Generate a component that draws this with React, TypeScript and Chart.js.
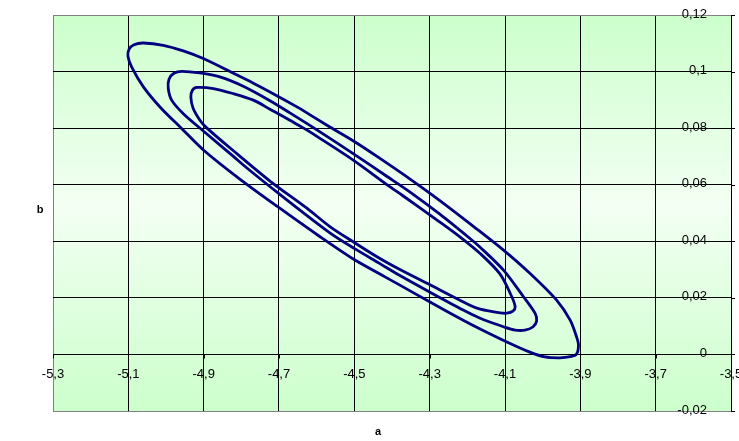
import React, { useEffect, useRef } from "react";
import { Chart, registerables } from "chart.js";

Chart.register(...registerables);

// Axis ticks
const xTicks = [-5.3, -5.1, -4.9, -4.7, -4.5, -4.3, -4.1, -3.9, -3.7, -3.5];
const xTickLabels = ["-5,3", "-5,1", "-4,9", "-4,7", "-4,5", "-4,3", "-4,1", "-3,9", "-3,7", "-3,5"];
const yTicks = [-0.02, 0, 0.02, 0.04, 0.06, 0.08, 0.1, 0.12];
const yTickLabels = ["-0,02", "0", "0,02", "0,04", "0,06", "0,08", "0,1", "0,12"];

const xTitle = "a";
const yTitle = "b";

// Outer contour
const outerA = [
  -4.644, -4.565, -4.498, -4.432, -4.352, -4.273, -4.184, -4.104, -4.034, -3.963, -3.927, -3.91, -3.905, -3.91,
  -3.927, -3.954, -3.994, -4.034, -4.095, -4.166, -4.211, -4.299, -4.379, -4.432, -4.506, -4.591, -4.697, -4.804,
  -4.9, -4.958, -5.016, -5.06, -5.091, -5.101, -5.098, -5.085, -5.06, -5.007, -4.954, -4.901, -4.821, -4.768, -4.724,
  -4.644,
];
const outerB = [
  0.0869, 0.0804, 0.0751, 0.0693, 0.062, 0.0544, 0.0453, 0.0369, 0.0287, 0.0192, 0.0121, 0.0062, 0.0033, 0.0001,
  -0.0008, -0.0012, -0.0009, 0.0008, 0.0044, 0.009, 0.0121, 0.0185, 0.0245, 0.0284, 0.034, 0.0416, 0.0516, 0.062,
  0.0722, 0.0798, 0.0875, 0.0946, 0.1016, 0.1054, 0.1079, 0.1095, 0.1101, 0.1093, 0.1073, 0.1046, 0.0994, 0.0959,
  0.0928, 0.0869,
];

// Middle contour
const middleA = [
  -4.618, -4.503, -4.414, -4.352, -4.273, -4.193, -4.166, -4.104, -4.051, -4.02, -4.016, -4.026, -4.047, -4.073,
  -4.104, -4.166, -4.211, -4.299, -4.379, -4.432, -4.498, -4.565, -4.697, -4.786, -4.821, -4.9, -4.954, -4.985,
  -4.994, -4.992, -4.979, -4.958, -4.91, -4.857, -4.795, -4.724, -4.671, -4.618,
];
const middleB = [
  0.081, 0.071, 0.063, 0.0574, 0.0496, 0.041, 0.0379, 0.0298, 0.0204, 0.0145, 0.0118, 0.0097, 0.0086, 0.0086,
  0.0098, 0.0128, 0.0157, 0.022, 0.0279, 0.0321, 0.0373, 0.043, 0.0565, 0.066, 0.07, 0.0789, 0.0851, 0.0899,
  0.094, 0.0973, 0.0994, 0.1001, 0.0995, 0.0981, 0.0948, 0.0897, 0.0854, 0.081,
];

// Inner contour
const innerA = [
  -4.618, -4.503, -4.405, -4.371, -4.273, -4.219, -4.166, -4.113, -4.082, -4.073, -4.079, -4.095, -4.113, -4.166,
  -4.193, -4.299, -4.379, -4.432, -4.498, -4.565, -4.626, -4.724, -4.821, -4.892, -4.91, -4.928, -4.934, -4.93,
  -4.918, -4.874, -4.821, -4.768, -4.724, -4.671, -4.618,
];
const innerB = [
  0.0787, 0.0687, 0.0592, 0.0561, 0.0468, 0.0415, 0.0357, 0.0284, 0.0204, 0.0168, 0.0153, 0.0146, 0.0147, 0.016,
  0.0174, 0.0246, 0.03, 0.0339, 0.0394, 0.0452, 0.0517, 0.0613, 0.072, 0.0801, 0.0828, 0.087, 0.0909, 0.0934,
  0.0944, 0.094, 0.0922, 0.0899, 0.0867, 0.0828, 0.0787,
];

const toPoints = (xs: number[], ys: number[]) => xs.map((x, i) => ({ x, y: ys[i] }));

const FONT = '"Liberation Sans", Arial, sans-serif';

const decorPlugin = {
  id: "decor",
  beforeDraw(chart: any) {
    const { ctx, chartArea } = chart;
    const g = ctx.createLinearGradient(0, chartArea.top, 0, chartArea.bottom);
    g.addColorStop(0, "#ccffcc");
    g.addColorStop(0.48, "#f3fff3");
    g.addColorStop(1, "#ccffcc");
    ctx.save();
    ctx.fillStyle = g;
    ctx.fillRect(chartArea.left, chartArea.top, chartArea.width, chartArea.height);
    ctx.restore();
  },
  afterDraw(chart: any) {
    const { ctx, chartArea } = chart;
    const xs = chart.scales.x;
    const ys = chart.scales.y;
    const y0 = Math.round(ys.getPixelForValue(0)) + 0.5;
    ctx.save();
    ctx.strokeStyle = "#000";
    ctx.lineWidth = 1;
    xTicks.forEach((v) => {
      const px = Math.round(xs.getPixelForValue(v)) + 0.5;
      ctx.beginPath();
      ctx.moveTo(px, y0);
      ctx.lineTo(px, y0 + 4);
      ctx.stroke();
    });
    yTicks.forEach((v) => {
      const py = Math.round(ys.getPixelForValue(v)) + 0.5;
      ctx.beginPath();
      ctx.moveTo(chartArea.right, py);
      ctx.lineTo(chartArea.right + 4, py);
      ctx.stroke();
    });
    ctx.fillStyle = "#000";
    ctx.font = `13px ${FONT}`;
    ctx.textAlign = "center";
    ctx.textBaseline = "middle";
    xTicks.forEach((v, i) => {
      ctx.fillText(xTickLabels[i], xs.getPixelForValue(v), ys.getPixelForValue(0) + 20);
    });
    ctx.textAlign = "right";
    yTicks.forEach((v, i) => {
      ctx.fillText(yTickLabels[i], chartArea.right - 24, ys.getPixelForValue(v) - 1);
    });
    ctx.font = `bold 11px ${FONT}`;
    ctx.textAlign = "center";
    ctx.fillText(yTitle, chartArea.left - 13, 210);
    ctx.fillText(xTitle, 378, 432);
    ctx.restore();
  },
};

export default function App() {
  const ref = useRef<HTMLCanvasElement | null>(null);
  useEffect(() => {
    if (!ref.current) return;
    const line = { showLine: true, borderColor: "#000080", borderWidth: 2.8, pointRadius: 0, tension: 0.3, fill: false };
    const gridColor = (edgeGray: number[]) => (c: any) =>
      c.tick && edgeGray.includes(c.tick.value) ? "#808080" : "#000000";
    const chart = new Chart(ref.current, {
      type: "scatter",
      data: {
        datasets: [
          { ...line, data: toPoints(outerA, outerB) },
          { ...line, data: toPoints(middleA, middleB) },
          { ...line, data: toPoints(innerA, innerB) },
        ],
      },
      options: {
        animation: false,
        responsive: true,
        maintainAspectRatio: false,
        layout: { padding: { left: 53, top: 15, right: 8, bottom: 30 } },
        plugins: { legend: { display: false }, tooltip: { enabled: false } },
        scales: {
          x: {
            type: "linear",
            min: -5.3,
            max: -3.5,
            afterBuildTicks: (s: any) => {
              s.ticks = xTicks.map((value) => ({ value }));
            },
            ticks: { display: false },
            grid: { color: gridColor([-5.3]), lineWidth: 1, drawTicks: false },
            border: { display: false },
          },
          y: {
            type: "linear",
            min: -0.02,
            max: 0.12,
            afterBuildTicks: (s: any) => {
              s.ticks = yTicks.map((value) => ({ value }));
            },
            ticks: { display: false },
            grid: { color: gridColor([-0.02, 0.12]), lineWidth: 1, drawTicks: false },
            border: { display: false },
          },
        },
      },
      plugins: [decorPlugin],
    });
    return () => chart.destroy();
  }, []);
  return (
    <div style={{ position: "absolute", left: 0, top: 0, width: 739, height: 441, background: "#fff" }}>
      <canvas ref={ref} />
    </div>
  );
}
